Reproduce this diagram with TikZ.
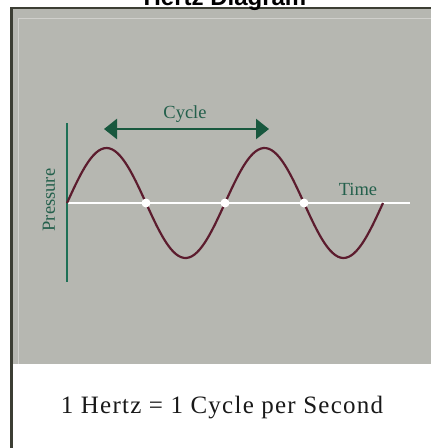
\documentclass[tikz,border=0pt]{standalone}
\usepackage{fontspec}
\newfontfamily\titlefont{Liberation Sans}
\newfontfamily\serifface{Liberation Serif}
\newfontfamily\captionface[LetterSpace=5]{Liberation Serif}
\usetikzlibrary{arrows.meta,positioning}
\definecolor{panelgray}{RGB}{182,183,177}
\definecolor{framedark}{RGB}{60,62,52}
\definecolor{axisgreen}{RGB}{30,112,86}
\definecolor{arrowgreen}{RGB}{24,88,62}
\definecolor{labelgreen}{RGB}{36,96,76}
\definecolor{wavecol}{RGB}{92,28,46}
\tikzset{
  hz axis/.style={draw=axisgreen,line width=1.8pt},
  hz time/.style={draw=white,line width=1.2pt},
  hz wave/.style={draw=wavecol,line width=2.2pt,line join=round},
  hz arrow/.style={{Triangle[length=13pt,width=20pt]}-{Triangle[length=13pt,width=20pt]},draw=arrowgreen,line width=2.4pt},
  hz dot/.style={circle,fill=white,minimum size=9pt,inner sep=0pt},
  hz label/.style={text=labelgreen,font=\serifface\fontsize{18.5}{18.5}\selectfont,inner sep=0pt}
}
\begin{document}
\begin{tikzpicture}[x=1pt,y=-1pt]
  \useasboundingbox (0,0) rectangle (431,448);
  % panels
  \fill[white] (0,0) rectangle (431,448);
  \fill[panelgray] (12,9) rectangle (431,364);
  \draw[white!35!panelgray,line width=0.8pt] (18,18) -- (431,18) (18,18) -- (18,364);
  \draw[framedark,line width=1.6pt] (10,8) -- (431,8);
  \draw[framedark,line width=2.4pt] (11.5,8) -- (11.5,448);
  \node[font=\titlefont\bfseries\fontsize{24}{24}\selectfont,anchor=base,inner sep=0pt] (title) at (225,5.5) {Hertz Diagram};
  % axes
  \coordinate (pTop) at (67,123);
  \coordinate (pBot) at (67,282);
  \coordinate (o) at (67,203);
  \coordinate (tEnd) at (410,203);
  \draw[hz time] (o) -- (tEnd);
  \draw[hz axis] (pTop) -- (pBot);
  % wave
  \draw[hz wave] plot[domain=0:316,samples=120,smooth] ({67+\x},{203-55*sin(\x/158*360)});
  \foreach \k/\nm in {1/z1,2/z2,3/z3}
    \node[hz dot] (\nm) at ({67+79*\k},203) {};
  % cycle arrow
  \coordinate (cycL) at (104,129);
  \coordinate (cycR) at (269,129);
  \draw[hz arrow] (cycL) -- (cycR);
  \node[hz label] (cycle) at (185,114) {Cycle};
  \node[hz label] (time) at (358,189) {Time};
  \node[hz label,rotate=90] (pressure) at (49,200) {Pressure};
  % caption
  \node[font=\captionface\fontsize{25}{25}\selectfont,text=black!90] (caption) at (222,408) {1 Hertz = 1 Cycle per Second};
\end{tikzpicture}
\end{document}
